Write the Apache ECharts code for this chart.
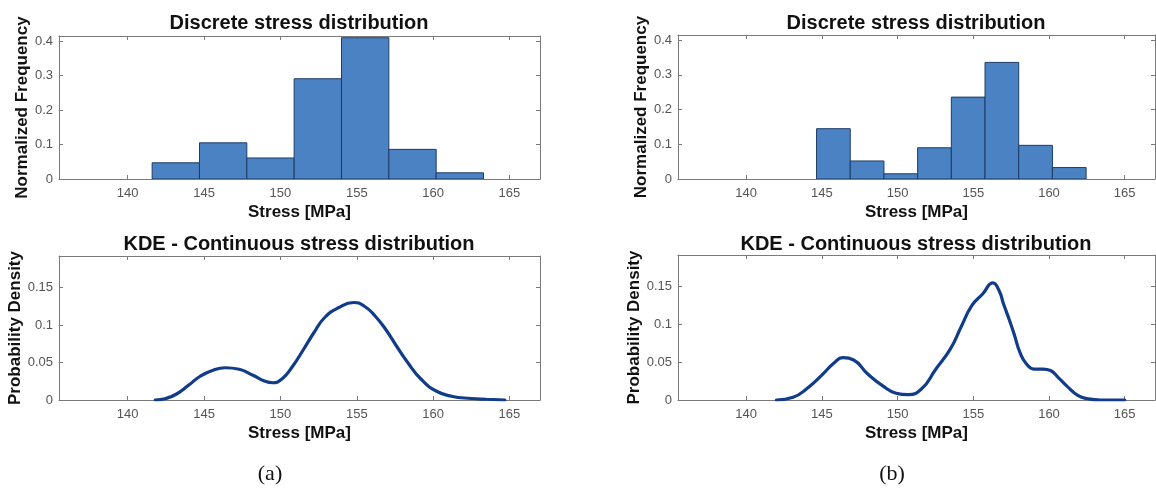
<!DOCTYPE html>
<html>
<head>
<meta charset="utf-8">
<script src="https://cdn.jsdelivr.net/npm/echarts@6/dist/echarts.min.js"></script>
<style>
html,body{margin:0;padding:0;background:#fff;}
#chart{width:1156px;height:488px;}
</style>
</head>
<body>
<div id="chart"></div>
<script>
// ---- data ----
const xTicks = [140, 145, 150, 155, 160, 165];
const histYTicks = [0, 0.1, 0.2, 0.3, 0.4];
const kdeYTicks = [0, 0.05, 0.1, 0.15];

// (a) histogram: bin edges and normalized frequencies
const histAEdges = [141.6, 144.7, 147.8, 150.9, 154.0, 157.1, 160.2, 163.3];
const histAFreq = [0.047, 0.105, 0.061, 0.291, 0.41, 0.086, 0.018];
// (b) histogram
const histBEdges = [144.65, 146.875, 149.1, 151.325, 153.55, 155.775, 158.0, 160.225, 162.45];
const histBFreq = [0.145, 0.052, 0.015, 0.09, 0.236, 0.336, 0.097, 0.033];

// (a) KDE
const kdeAX = [141.8, 142.5, 143.2, 144.0, 144.7, 145.5, 146.4, 147.3, 148.2, 149.0, 149.5, 150.1, 150.8, 151.5, 152.2, 152.9, 153.8, 154.8, 155.5, 156.2, 156.9, 157.6, 158.3, 159.2, 160.2, 161.2, 162.5, 163.5, 164.7];
const kdeAY = [0, 0.002, 0.008, 0.02, 0.031, 0.039, 0.043, 0.041, 0.033, 0.025, 0.023, 0.028, 0.045, 0.067, 0.09, 0.11, 0.123, 0.130, 0.125, 0.112, 0.094, 0.072, 0.051, 0.028, 0.012, 0.005, 0.002, 0.001, 0];
// (b) KDE
const kdeBX = [142.0, 143.1, 144.0, 145.0, 145.8, 146.4, 147.1, 148.0, 149.0, 149.9, 150.7, 151.6, 152.5, 153.5, 154.2, 154.9, 155.6, 156.3, 156.7, 157.0, 157.4, 157.7, 158.1, 158.5, 159.0, 159.6, 160.1, 160.6, 161.2, 161.9, 162.5, 163.4, 165.0];
const kdeBY = [0, 0.0035, 0.015, 0.033, 0.049, 0.056, 0.053, 0.035, 0.019, 0.009, 0.007, 0.015, 0.040, 0.068, 0.097, 0.125, 0.140, 0.155, 0.145, 0.127, 0.105, 0.087, 0.062, 0.048, 0.041, 0.041, 0.039, 0.030, 0.018, 0.006, 0.002, 0, 0];

const xMin = 135.5, xMax = 167;
const histYMax = 0.415, kdeYMax = 0.192;

const FONT = '"Liberation Sans", Arial, Helvetica, sans-serif';
const AXIS_COLOR = '#7a7a7a';
const LABEL_COLOR = '#555555';
const BAR_FILL = '#4a82c4';
const BAR_EDGE = '#1d3c66';
const LINE_COLOR = '#103c8a';

const grids = [
  {left: 59, top: 36, width: 481, height: 143},
  {left: 59, top: 256, width: 481, height: 144},
  {left: 678, top: 35, width: 477, height: 144},
  {left: 678, top: 255, width: 477, height: 145}
];
const yInfo = [
  {max: histYMax, ticks: histYTicks, name: 'Normalized Frequency', gap: 27},
  {max: kdeYMax, ticks: kdeYTicks, name: 'Probability Density', gap: 34},
  {max: histYMax, ticks: histYTicks, name: 'Normalized Frequency', gap: 27},
  {max: kdeYMax, ticks: kdeYTicks, name: 'Probability Density', gap: 35}
];

const xAxes = [], yAxes = [];
grids.forEach((g, i) => {
  xAxes.push({
    type: 'value', gridIndex: i, position: 'bottom', min: xMin, max: xMax,
    name: 'Stress [MPa]', nameLocation: 'middle', nameGap: 25,
    nameTextStyle: {fontFamily: FONT, fontWeight: 'bold', fontSize: 17, color: '#111'},
    splitLine: {show: false},
    axisLine: {show: true, onZero: false, lineStyle: {color: AXIS_COLOR, width: 1}},
    axisTick: {show: true, inside: true, length: 4, customValues: xTicks, lineStyle: {color: AXIS_COLOR}},
    axisLabel: {show: true, customValues: xTicks, margin: 8, fontFamily: FONT, fontSize: 13, color: LABEL_COLOR}
  });
  xAxes.push({
    type: 'value', gridIndex: i, position: 'top', min: xMin, max: xMax,
    splitLine: {show: false},
    axisLine: {show: true, onZero: false, lineStyle: {color: AXIS_COLOR, width: 1}},
    axisTick: {show: true, inside: true, length: 4, customValues: xTicks, lineStyle: {color: AXIS_COLOR}},
    axisLabel: {show: false}
  });
  const yi = yInfo[i];
  yAxes.push({
    type: 'value', gridIndex: i, position: 'left', min: 0, max: yi.max,
    name: yi.name, nameLocation: 'middle', nameGap: yi.gap,
    nameTextStyle: {fontFamily: FONT, fontWeight: 'bold', fontSize: 17, color: '#111'},
    splitLine: {show: false},
    axisLine: {show: true, onZero: false, lineStyle: {color: AXIS_COLOR, width: 1}},
    axisTick: {show: true, inside: true, length: 4, customValues: yi.ticks, lineStyle: {color: AXIS_COLOR}},
    axisLabel: {show: true, customValues: yi.ticks, margin: 6, fontFamily: FONT, fontSize: 13, color: LABEL_COLOR,
      formatter: v => String(+v.toFixed(3))}
  });
  yAxes.push({
    type: 'value', gridIndex: i, position: 'right', min: 0, max: yi.max,
    splitLine: {show: false},
    axisLine: {show: true, onZero: false, lineStyle: {color: AXIS_COLOR, width: 1}},
    axisTick: {show: true, inside: true, length: 4, customValues: yi.ticks, lineStyle: {color: AXIS_COLOR}},
    axisLabel: {show: false}
  });
});

function histData(edges, freq) {
  return freq.map((f, i) => [edges[i], edges[i + 1], f]);
}
function renderBin(params, api) {
  const p0 = api.coord([api.value(0), api.value(2)]);
  const p1 = api.coord([api.value(1), 0]);
  return {
    type: 'rect',
    shape: {x: p0[0], y: p0[1], width: p1[0] - p0[0], height: p1[1] - p0[1]},
    style: {fill: BAR_FILL, stroke: BAR_EDGE, lineWidth: 1}
  };
}
function zip(xs, ys) { return xs.map((x, i) => [x, ys[i]]); }

const lineCommon = {type: 'line', smooth: 0.5, showSymbol: false, lineStyle: {color: LINE_COLOR, width: 3.2, cap: 'round', join: 'round'}};
const series = [
  {type: 'custom', xAxisIndex: 0, yAxisIndex: 0, renderItem: renderBin, encode: {x: [0, 1], y: 2}, data: histData(histAEdges, histAFreq), clip: true},
  Object.assign({xAxisIndex: 2, yAxisIndex: 2, data: zip(kdeAX, kdeAY)}, lineCommon),
  {type: 'custom', xAxisIndex: 4, yAxisIndex: 4, renderItem: renderBin, encode: {x: [0, 1], y: 2}, data: histData(histBEdges, histBFreq), clip: true},
  Object.assign({xAxisIndex: 6, yAxisIndex: 6, data: zip(kdeBX, kdeBY)}, lineCommon)
];

function txt(x, y, text, font) {
  return {type: 'text', x: x, y: y, style: {text: text, font: font, fill: '#111', textAlign: 'center', textVerticalAlign: 'middle'}};
}
const titleFont = 'bold 20px ' + FONT;
const graphic = [
  txt(299, 23, 'Discrete stress distribution', titleFont),
  txt(299, 244, 'KDE - Continuous stress distribution', titleFont),
  txt(916, 23, 'Discrete stress distribution', titleFont),
  txt(916, 244, 'KDE - Continuous stress distribution', titleFont),
  txt(270, 474, '(a)', '22px "Liberation Serif", "Times New Roman", serif'),
  txt(892, 474, '(b)', '22px "Liberation Serif", "Times New Roman", serif')
];

const chart = echarts.init(document.getElementById('chart'), null, {renderer: 'canvas'});
chart.setOption({
  animation: false,
  backgroundColor: '#ffffff',
  grid: grids.map(g => Object.assign({containLabel: false}, g)),
  xAxis: xAxes,
  yAxis: yAxes,
  series: series,
  graphic: graphic
});
</script>
</body>
</html>
